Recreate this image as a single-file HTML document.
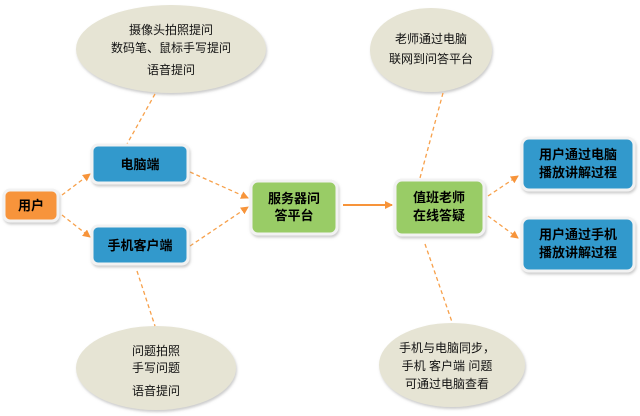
<!DOCTYPE html>
<html><head><meta charset="utf-8"><style>
body{margin:0;background:#fff;}
svg{display:block;font-family:"Liberation Sans","Noto Sans CJK SC","WenQuanYi Zen Hei",sans-serif;}
.e{fill:#e6e4d4;}
.t{font-size:12px;fill:#111;text-anchor:middle;}
.b{font-size:13px;font-weight:bold;fill:#000;text-anchor:middle;}
.d{stroke:#f7a04a;stroke-width:1.3;stroke-dasharray:4,3;fill:none;}
.box{stroke:#f2f2f2;stroke-width:3;}
</style></head><body>
<svg width="640" height="416" viewBox="0 0 640 416">
<defs>
<marker id="a" markerWidth="8" markerHeight="8" refX="7" refY="4" orient="auto" markerUnits="userSpaceOnUse"><path d="M0,0 L8,4 L0,8z" fill="#f7943a"/></marker>
<filter id="s" x="-10%" y="-10%" width="130%" height="140%"><feDropShadow dx="1" dy="2" stdDeviation="1.2" flood-color="#999" flood-opacity="0.5"/></filter>
</defs>
<ellipse class="e" cx="171" cy="49" rx="95" ry="44" filter="url(#s)"/>
<ellipse class="e" cx="431" cy="50" rx="61" ry="42" filter="url(#s)"/>
<ellipse class="e" cx="156" cy="368" rx="80" ry="42" filter="url(#s)"/>
<ellipse class="e" cx="452" cy="365" rx="73" ry="42" filter="url(#s)"/>
<text class="t" x="171" y="34">摄像头拍照提问</text>
<text class="t" x="171" y="52">数码笔、鼠标手写提问</text>
<text class="t" x="171" y="74">语音提问</text>
<text class="t" x="431" y="43">老师通过电脑</text>
<text class="t" x="431" y="63">联网到问答平台</text>
<text class="t" x="156" y="355">问题拍照</text>
<text class="t" x="156" y="372">手写问题</text>
<text class="t" x="156" y="395">语音提问</text>
<text class="t" x="447" y="352">手机与电脑同步，</text>
<text class="t" x="447" y="370">手机 客户端 问题</text>
<text class="t" x="447" y="388">可通过电脑查看</text>
<line class="d" x1="155" y1="94" x2="127" y2="144"/>
<line class="d" x1="137" y1="271" x2="155" y2="326"/>
<line class="d" x1="443" y1="93" x2="420" y2="178"/>
<line class="d" x1="425" y1="244" x2="452" y2="322"/>
<line class="d" x1="62" y1="195" x2="90" y2="174" marker-end="url(#a)"/>
<line class="d" x1="62" y1="215" x2="90" y2="237" marker-end="url(#a)"/>
<line class="d" x1="190" y1="172" x2="248" y2="198" marker-end="url(#a)"/>
<line class="d" x1="190" y1="246" x2="248" y2="207" marker-end="url(#a)"/>
<line x1="343" y1="205" x2="392" y2="205" stroke="#f7943a" stroke-width="2" marker-end="url(#a)"/>
<line class="d" x1="488" y1="196" x2="518" y2="176" marker-end="url(#a)"/>
<line class="d" x1="488" y1="216" x2="518" y2="238" marker-end="url(#a)"/>
<g filter="url(#s)">
<rect class="box" x="4" y="190" width="54" height="31" rx="6" fill="#f7943a"/>
<rect class="box" x="92" y="145" width="96" height="38" rx="6" fill="#3399cc"/>
<rect class="box" x="92" y="226" width="96" height="38" rx="6" fill="#3399cc"/>
<rect class="box" x="251" y="181" width="86" height="53" rx="7" fill="#99cc66"/>
<rect class="box" x="395" y="180" width="89" height="55" rx="7" fill="#99cc66"/>
<rect class="box" x="522" y="138" width="112" height="52" rx="7" fill="#3399cc"/>
<rect class="box" x="522" y="218" width="112" height="53" rx="7" fill="#3399cc"/>
</g>
<text class="b" x="31" y="210">用户</text>
<text class="b" x="140" y="169">电脑端</text>
<text class="b" x="140" y="250">手机客户端</text>
<text class="b" x="294" y="203">服务器问</text>
<text class="b" x="294" y="220">答平台</text>
<text class="b" x="439" y="202">值班老师</text>
<text class="b" x="439" y="220">在线答疑</text>
<text class="b" x="578" y="159">用户通过电脑</text>
<text class="b" x="578" y="177">播放讲解过程</text>
<text class="b" x="578" y="239">用户通过手机</text>
<text class="b" x="578" y="257">播放讲解过程</text>
</svg>
</body></html>
